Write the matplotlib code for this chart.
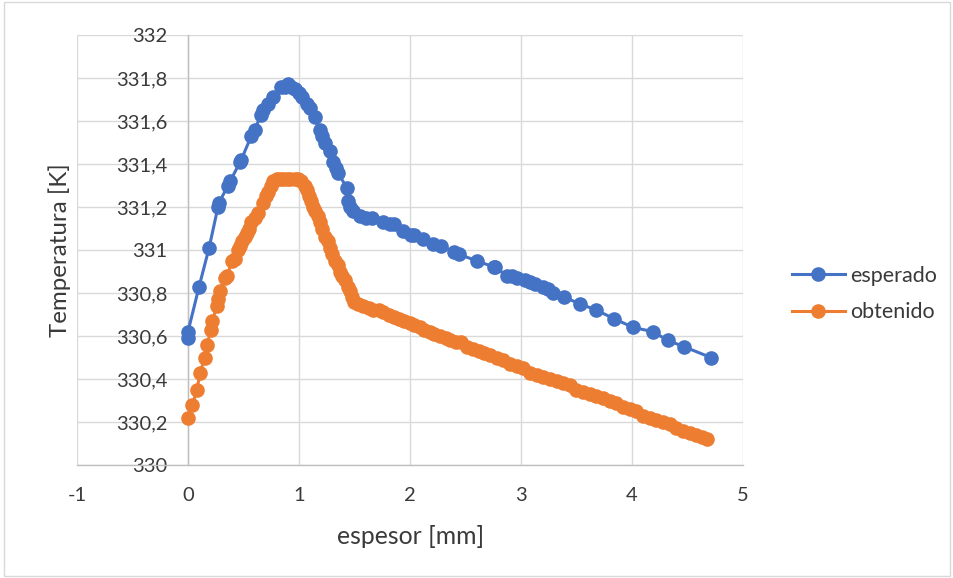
import matplotlib
matplotlib.use("Agg")
import matplotlib.pyplot as plt
from matplotlib.patches import Rectangle
from matplotlib.ticker import FuncFormatter

esperado_x = [0.00, 0.00, 0.10, 0.19, 0.27, 0.28, 0.36, 0.38, 0.47, 0.48, 0.57, 0.60,
              0.66, 0.68, 0.72, 0.77, 0.84, 0.87, 0.90, 0.93, 0.96, 1.00, 1.03, 1.07,
              1.10, 1.14, 1.19, 1.21, 1.23, 1.28, 1.31, 1.33, 1.35, 1.43, 1.44, 1.46,
              1.49, 1.55, 1.60, 1.66, 1.76, 1.82, 1.86, 1.94, 2.01, 2.04, 2.12, 2.21,
              2.28, 2.40, 2.44, 2.60, 2.76, 2.77, 2.87, 2.92, 2.96, 3.04, 3.08, 3.13,
              3.20, 3.24, 3.29, 3.39, 3.53, 3.68, 3.84, 4.01, 4.19, 4.32, 4.47, 4.71]
esperado_y = [330.59, 330.62, 330.83, 331.01, 331.20, 331.22, 331.30, 331.32, 331.41, 331.42,
              331.53, 331.56, 331.63, 331.65, 331.68, 331.71, 331.76, 331.76, 331.77, 331.76,
              331.75, 331.73, 331.71, 331.68, 331.66, 331.62, 331.56, 331.53, 331.50, 331.46,
              331.41, 331.38, 331.36, 331.29, 331.23, 331.20, 331.18, 331.16, 331.15, 331.15,
              331.13, 331.12, 331.12, 331.09, 331.07, 331.07, 331.05, 331.03, 331.02, 330.99,
              330.98, 330.95, 330.92, 330.92, 330.88, 330.88, 330.87, 330.86, 330.85, 330.84,
              330.83, 330.82, 330.80, 330.78, 330.75, 330.72, 330.68, 330.64, 330.62, 330.58,
              330.55, 330.50]

obtenido_x = [0.00, 0.04, 0.08, 0.11, 0.15, 0.17, 0.21, 0.22, 0.26, 0.27, 0.29, 0.33,
              0.35, 0.40, 0.42, 0.45, 0.47, 0.49, 0.51, 0.53, 0.55, 0.57, 0.60, 0.63,
              0.68, 0.70, 0.72, 0.75, 0.77, 0.80, 0.83, 0.86, 0.89, 0.92, 0.96, 0.99,
              1.02, 1.05, 1.07, 1.09, 1.11, 1.13, 1.14, 1.17, 1.19, 1.21, 1.23, 1.26,
              1.28, 1.30, 1.32, 1.35, 1.37, 1.39, 1.41, 1.44, 1.46, 1.48, 1.50, 1.53,
              1.58, 1.63, 1.67, 1.72, 1.76, 1.81, 1.86, 1.90, 1.95, 2.00, 2.04, 2.09,
              2.13, 2.18, 2.22, 2.27, 2.32, 2.36, 2.41, 2.46, 2.51, 2.57, 2.62, 2.67,
              2.72, 2.78, 2.84, 2.90, 2.96, 3.02, 3.08, 3.14, 3.20, 3.26, 3.32, 3.38,
              3.44, 3.50, 3.56, 3.62, 3.68, 3.74, 3.80, 3.86, 3.92, 3.98, 4.04, 4.10,
              4.16, 4.22, 4.28, 4.34, 4.40, 4.46, 4.52, 4.58, 4.63, 4.68]
obtenido_y = [330.22, 330.28, 330.35, 330.43, 330.50, 330.56, 330.63, 330.67, 330.74, 330.77,
              330.81, 330.87, 330.88, 330.95, 330.96, 331.00, 331.02, 331.04, 331.06, 331.08,
              331.10, 331.13, 331.15, 331.17, 331.22, 331.25, 331.27, 331.30, 331.32, 331.33,
              331.33, 331.33, 331.33, 331.33, 331.33, 331.33, 331.32, 331.30, 331.28, 331.25,
              331.23, 331.20, 331.18, 331.16, 331.13, 331.10, 331.06, 331.04, 331.01, 330.98,
              330.95, 330.93, 330.90, 330.88, 330.86, 330.83, 330.81, 330.78, 330.76, 330.75,
              330.74, 330.73, 330.72, 330.72, 330.71, 330.70, 330.69, 330.68, 330.67, 330.66,
              330.65, 330.64, 330.63, 330.62, 330.61, 330.60, 330.59, 330.58, 330.57, 330.57,
              330.55, 330.54, 330.53, 330.52, 330.51, 330.50, 330.49, 330.47, 330.46, 330.45,
              330.43, 330.42, 330.41, 330.40, 330.39, 330.38, 330.37, 330.35, 330.34, 330.33,
              330.32, 330.31, 330.30, 330.29, 330.27, 330.26, 330.25, 330.23, 330.22, 330.21,
              330.20, 330.19, 330.17, 330.16, 330.15, 330.14, 330.13, 330.12]

x_ticks = [-1, 0, 1, 2, 3, 4, 5]
y_ticks = [330, 330.2, 330.4, 330.6, 330.8, 331, 331.2, 331.4, 331.6, 331.8, 332]

FONT = ["Lato", "DejaVu Sans"]
plt.rcParams["font.family"] = FONT
plt.rcParams["axes.unicode_minus"] = False
TXT = "#3a3a3a"

fig = plt.figure(figsize=(9.54, 5.78), dpi=100)
fig.patches.append(Rectangle((0.004, 0.004), 0.992, 0.992, transform=fig.transFigure,
                             fill=False, edgecolor="#d9d9d9", linewidth=1.0))
ax = fig.add_axes([77 / 954, 1 - 465 / 578, (743 - 77) / 954, (465 - 35) / 578])

ax.plot(esperado_x, esperado_y, "-o", color="#4472C4", lw=2.2, ms=9.5, label="esperado", zorder=3)
ax.plot(obtenido_x, obtenido_y, "-o", color="#ED7D31", lw=2.2, ms=9.5, label="obtenido", zorder=3)

ax.set_xlim(-1, 5)
ax.set_ylim(330, 332)
ax.set_xticks(x_ticks)
ax.set_yticks(y_ticks)
ax.xaxis.set_major_formatter(FuncFormatter(lambda v, p: f"{v:g}".replace("−", "-")))
ax.yaxis.set_major_formatter(FuncFormatter(lambda v, p: f"{v:g}".replace(".", ",")))
ax.grid(True, color="#d9d9d9", lw=1.0, zorder=0)
ax.set_axisbelow(True)

for s in ["top", "right"]:
    ax.spines[s].set_visible(False)
ax.spines["left"].set_position(("data", 0))
ax.spines["left"].set_color("#bfbfbf")
ax.spines["bottom"].set_color("#bfbfbf")
ax.spines["left"].set_linewidth(1.0)
ax.spines["bottom"].set_linewidth(1.0)
ax.tick_params(axis="both", length=0, labelsize=14.5, colors=TXT, labelcolor=TXT)
ax.tick_params(axis="x", pad=16)
ax.tick_params(axis="y", pad=15)

fig.text(411 / 954, 1 - 537 / 578, "espesor [mm]", ha="center", va="center", fontsize=17.8, color=TXT)
fig.text(60 / 954, 1 - 250 / 578, "Temperatura [K]", ha="center", va="center", rotation=90,
         fontsize=17.4, color=TXT)

leg = fig.legend(loc="center left", bbox_to_anchor=(792 / 954, 1 - 294 / 578), frameon=False,
                 fontsize=15.5, labelspacing=0.75, handlelength=2.45, handletextpad=0.25,
                 borderpad=0, borderaxespad=0)
for t in leg.get_texts():
    t.set_color(TXT)

fig.savefig("out.png", dpi=100)
